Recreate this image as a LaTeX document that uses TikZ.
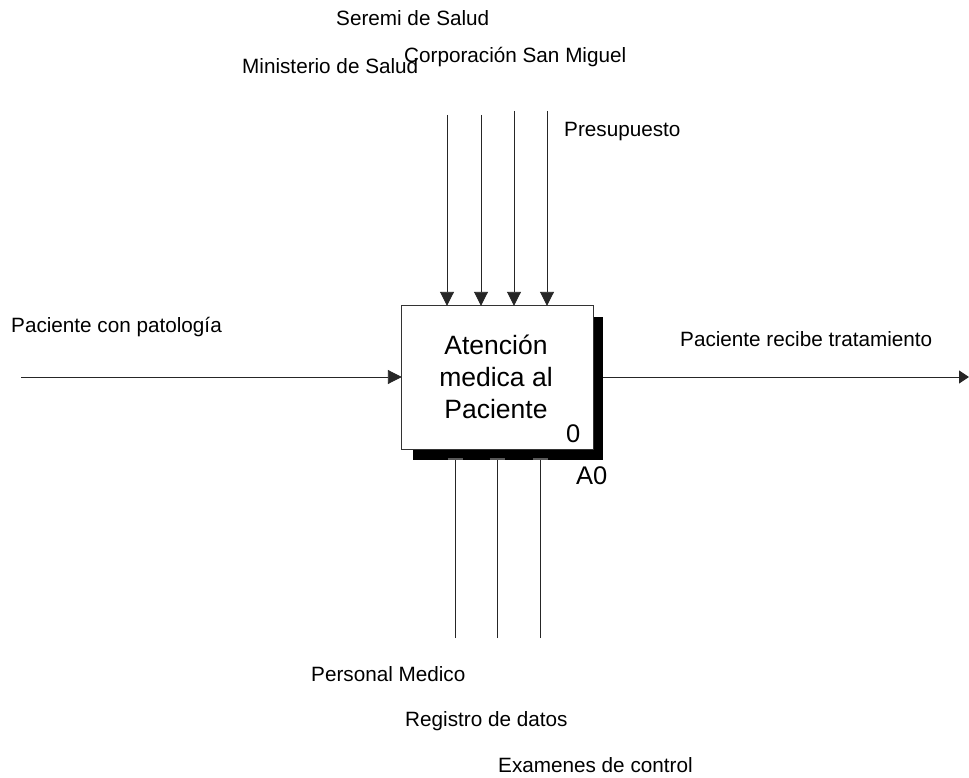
\documentclass[tikz,border=0pt]{standalone}
\usepackage{fontspec}
\setmainfont{Liberation Sans}
\usetikzlibrary{arrows.meta}
\begin{document}
\begin{tikzpicture}[x=1pt,y=-1pt,
  lbl/.style={anchor=base west,inner sep=0pt,font=\fontsize{20.7}{24}\selectfont},
  tag/.style={anchor=base west,inner sep=0pt,font=\fontsize{25.5}{30}\selectfont},
  link/.style={line width=0.9pt,draw=black!85},
  arr/.style={link,-{Triangle[length=14pt,width=14pt]}},
  stub/.style={line width=2pt,draw=black!65}]
\useasboundingbox (0,0) rectangle (969,778);

% activity box and its shadow
\node[minimum width=191pt,minimum height=143pt,inner sep=0pt] (box) at (497.5,377.5) {};
\node[fill=black,minimum width=190pt,minimum height=143pt,inner sep=0pt] (shadow) at (508,388.5) {};

% input and output
\coordinate (in) at (21,377);
\coordinate (out) at (969,377);
\draw[arr] (in) -- (in -| box.west);
\draw[link,-{Triangle[length=10pt,width=13pt]}] (box.east |- out) -- (out);

% mechanisms
\coordinate (m1) at (455,638);
\coordinate (m2) at (497,638);
\coordinate (m3) at (540,638);
\foreach \m in {m1,m2,m3}
  \draw[link] (\m) -- (\m |- shadow.south);

% shadow then box on top
\fill[black] (shadow.north west) rectangle (shadow.south east);
\draw[fill=white,line width=0.9pt,draw=black!80] (box.north west) rectangle (box.south east);

% mechanism stubs just below the shadow
\foreach \m in {m1,m2,m3}
  \draw[stub] ([xshift=-7.5pt,yshift=1.5pt]\m |- shadow.south) -- ([xshift=7.5pt,yshift=1.5pt]\m |- shadow.south);

% controls
\coordinate (c1) at (447,115);
\coordinate (c2) at (481,115);
\coordinate (c3) at (514,111);
\coordinate (c4) at (547,111);
\foreach \c in {c1,c2,c3,c4}
  \draw[arr] (\c) -- (\c |- box.north);

% box label and numbers
\node[anchor=base,inner sep=0pt,align=center,font=\fontsize{26.5}{32}\selectfont] (title) at (496,418) {Atención\\medica al\\Paciente};
\node[tag] (num) at (566,442) {0};
\node[tag] (ref) at (576,484) {A0};

% arrow labels
\node[lbl] (lseremi) at (336,26) {Seremi de Salud};
\node[lbl] (lcorp) at (404,63) {Corporación San Miguel};
\node[lbl] (lmin) at (242,74) {Ministerio de Salud};
\node[lbl] (lpres) at (564,137) {Presupuesto};
\node[lbl] (lin) at (11,332) {Paciente con patología};
\node[lbl] (lout) at (680,346) {Paciente recibe tratamiento};
\node[lbl] (lpers) at (311,681) {Personal Medico};
\node[lbl] (lreg) at (405,726) {Registro de datos};
\node[lbl] (lexam) at (498,772) {Examenes de control};
\end{tikzpicture}
\end{document}
